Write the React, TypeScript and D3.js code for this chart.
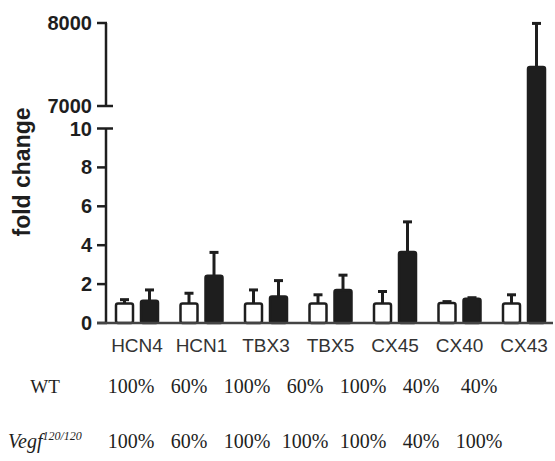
import * as d3 from 'd3'
import { useEffect, useRef } from 'react'

const genes = ['HCN4', 'HCN1', 'TBX3', 'TBX5', 'CX45', 'CX40', 'CX43']
const wtMean = [1.0, 1.0, 1.0, 1.0, 1.0, 1.03, 1.0]
const wtErr = [0.2, 0.53, 0.7, 0.45, 0.62, 0.07, 0.45]
const vegfMean = [1.15, 2.43, 1.36, 1.7, 3.65, 1.25, 7470]
const vegfErr = [0.55, 1.2, 0.82, 0.76, 1.55, 0.05, 525]
const wtPct = ['100%', '60%', '100%', '60%', '100%', '40%', '40%']
const vegfPct = ['100%', '60%', '100%', '100%', '100%', '40%', '100%']
const lowTicks = [0, 2, 4, 6, 8, 10]
const highTicks = [7000, 8000]

export default function App() {
  const ref = useRef<SVGSVGElement>(null)

  useEffect(() => {
    const svg = d3.select(ref.current)
    svg.selectAll('*').remove()

    const axisX = 106
    const ink = '#1e1e1e'
    const sans = '"Liberation Sans", Arial, sans-serif'
    const serif = '"Liberation Serif", "Times New Roman", serif'

    const x = d3.scaleBand().domain(genes).range([104.75, 556.25])
    const x1 = d3.scaleBand().domain(['wt', 'vegf']).range([10, 54.5]).paddingInner(0.22)
    const yLow = d3.scaleLinear().domain([0, 10]).range([323, 128.5])
    const yHigh = d3.scaleLinear().domain([7000, 8000]).range([106, 23])
    const y = (v: number) => (v <= 10 ? yLow(v) : yHigh(v))

    // y axis, broken into two segments
    svg.append('line').attr('x1', axisX).attr('x2', axisX)
      .attr('y1', yLow(0)).attr('y2', yLow(10))
      .attr('stroke', ink).attr('stroke-width', 2.5)
    svg.append('line').attr('x1', axisX).attr('x2', axisX)
      .attr('y1', yHigh(7000)).attr('y2', yHigh(8000))
      .attr('stroke', ink).attr('stroke-width', 2.5)

    const tick = (yy: number, wide: boolean) =>
      svg.append('line').attr('x1', 97).attr('x2', wide ? 113 : axisX + 1)
        .attr('y1', yy).attr('y2', yy)
        .attr('stroke', ink).attr('stroke-width', 2.5)

    lowTicks.forEach(t => tick(yLow(t), t === 10))
    highTicks.forEach(t => tick(yHigh(t), t === 7000))

    const labels = [
      ...lowTicks.map(t => ({ v: t, yy: yLow(t) })),
      ...highTicks.map(t => ({ v: t, yy: yHigh(t) }))
    ]
    svg.append('g').selectAll('text').data(labels).join('text')
      .attr('x', 92).attr('y', d => d.yy + 7)
      .attr('text-anchor', 'end')
      .attr('font-family', sans).attr('font-weight', 'bold').attr('font-size', 20)
      .attr('fill', ink)
      .text(d => String(d.v))

    svg.append('text')
      .attr('transform', 'translate(30,172) rotate(-90)')
      .attr('text-anchor', 'middle')
      .attr('font-family', sans).attr('font-weight', 'bold').attr('font-size', 23)
      .attr('fill', ink)
      .text('fold change')

    // bars
    const rows = genes.flatMap((g, i) => [
      { g, k: 'wt', v: wtMean[i], e: wtErr[i] },
      { g, k: 'vegf', v: vegfMean[i], e: vegfErr[i] }
    ])
    const bw = x1.bandwidth()

    const err = svg.append('g').attr('stroke', ink).attr('stroke-width', 3)
    rows.forEach(d => {
      const cx = (x(d.g) as number) + (x1(d.k) as number) + bw / 2
      err.append('line').attr('x1', cx).attr('x2', cx)
        .attr('y1', y(d.v)).attr('y2', y(d.v + d.e))
      err.append('line').attr('x1', cx - 4.5).attr('x2', cx + 4.5)
        .attr('y1', y(d.v + d.e)).attr('y2', y(d.v + d.e))
    })

    svg.append('g').selectAll('rect').data(rows).join('rect')
      .attr('x', d => (x(d.g) as number) + (x1(d.k) as number) + 1.25)
      .attr('width', bw - 2.5)
      .attr('y', d => y(d.v))
      .attr('height', d => yLow(0) - y(d.v))
      .attr('rx', 2)
      .attr('fill', d => (d.k === 'wt' ? '#fff' : ink))
      .attr('stroke', ink).attr('stroke-width', 2.5)

    // x axis
    svg.append('line').attr('x1', 97).attr('x2', 553)
      .attr('y1', yLow(0)).attr('y2', yLow(0))
      .attr('stroke', '#444').attr('stroke-width', 2.5)

    svg.append('g').selectAll('text').data(genes).join('text')
      .attr('x', d => (x(d) as number) + x.bandwidth() / 2)
      .attr('y', 352)
      .attr('text-anchor', 'middle')
      .attr('font-family', sans).attr('font-size', 19)
      .attr('fill', '#333')
      .text(d => d)

    // genotype table under the chart
    const col = d3.scalePoint().domain(genes).range([131, 479])
    svg.append('text').attr('x', 45).attr('y', 393).attr('text-anchor', 'middle')
      .attr('font-family', serif).attr('font-size', 19).attr('fill', ink).text('WT')
    svg.append('g').selectAll('text').data(wtPct).join('text')
      .attr('x', (d, i) => col(genes[i]) as number).attr('y', 393)
      .attr('text-anchor', 'middle')
      .attr('font-family', serif).attr('font-size', 20).attr('fill', ink)
      .text(d => d)

    const vg = svg.append('text').attr('x', 8).attr('y', 448)
      .attr('font-family', serif).attr('font-style', 'italic').attr('fill', ink)
    vg.append('tspan').attr('font-size', 20).text('Vegf')
    vg.append('tspan').attr('font-size', 12).attr('dy', -8).text('120/120')

    svg.append('g').selectAll('text').data(vegfPct).join('text')
      .attr('x', (d, i) => col(genes[i]) as number).attr('y', 448)
      .attr('text-anchor', 'middle')
      .attr('font-family', serif).attr('font-size', 20).attr('fill', ink)
      .text(d => d)
  }, [])

  return (
    <svg ref={ref} width={555} height={461}
      style={{ position: 'absolute', left: 0, top: 0, background: '#fff' }} />
  )
}
